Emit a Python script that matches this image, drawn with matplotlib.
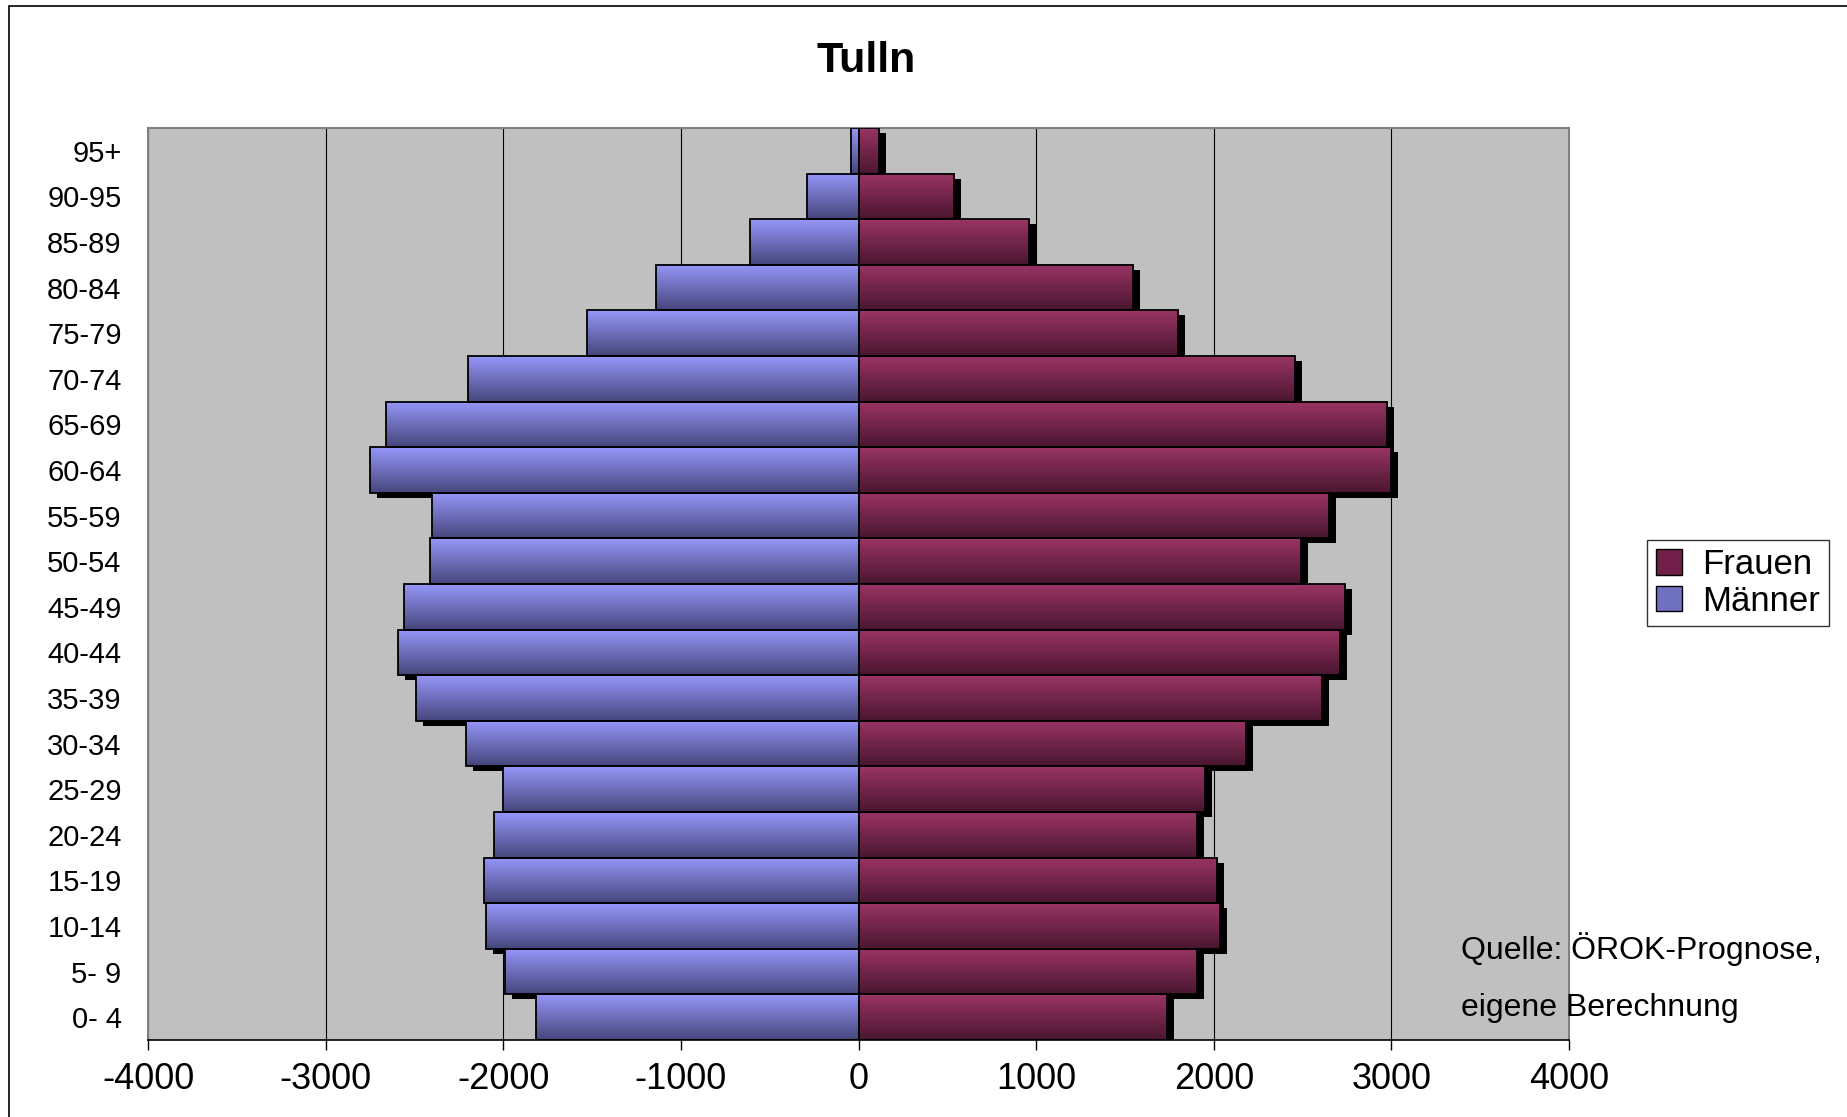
import numpy as np
import matplotlib
matplotlib.use("Agg")
import matplotlib.pyplot as plt
from matplotlib.patches import Patch, Rectangle
from matplotlib.colors import to_rgb
import matplotlib.transforms as mtransforms

plt.rcParams["font.family"] = ["Liberation Sans", "DejaVu Sans"]
plt.rcParams["axes.unicode_minus"] = False

# Data (bottom to top)
ages = ["0- 4", "5- 9", "10-14", "15-19", "20-24", "25-29", "30-34", "35-39",
        "40-44", "45-49", "50-54", "55-59", "60-64", "65-69", "70-74", "75-79",
        "80-84", "85-89", "90-95", "95+"]
maenner = [1815, 1990, 2095, 2110, 2050, 2000, 2210, 2490, 2590, 2560,
           2410, 2400, 2750, 2660, 2200, 1530, 1140, 610, 290, 45]
frauen = [1735, 1905, 2035, 2020, 1905, 1950, 2180, 2610, 2710, 2740,
          2490, 2650, 3000, 2975, 2460, 1800, 1545, 960, 535, 115]
x_ticks = [-4000, -3000, -2000, -1000, 0, 1000, 2000, 3000, 4000]

men_top, men_bot = "#9696FA", "#46467C"
wom_top, wom_bot = "#9A3464", "#4A1630"

W, H = 1847, 1117
fig = plt.figure(figsize=(W / 100, H / 100), dpi=100)
ax = fig.add_axes([148 / W, 1 - 1040 / H, 1421 / W, 912 / H])
ax.set_facecolor("#C0C0C0")

y = np.arange(len(ages))
men_vals = -np.array(maenner, dtype=float)
wom_vals = np.array(frauen, dtype=float)


def gradient(top, bot, n=64):
    t = np.linspace(0, 1, n)[:, None]
    c0 = np.array(to_rgb(top))
    c1 = np.array(to_rgb(bot))
    return (c0 * (1 - t) + c1 * t)[:, None, :]


# Shadows (offset a few pixels right/down)
shadow_tr = ax.transData + mtransforms.ScaledTranslation(7 / 100, -5 / 100, fig.dpi_scale_trans)
ax.barh(y, men_vals, height=1.0, color="black", zorder=1.5, transform=shadow_tr)
ax.barh(y, wom_vals, height=1.0, color="black", zorder=1.5, transform=shadow_tr)

# Gradient fills
g_men = gradient(men_top, men_bot)
g_wom = gradient(wom_top, wom_bot)
for yi, m, f in zip(y, men_vals, wom_vals):
    ax.imshow(g_men, extent=[m, 0, yi - 0.5, yi + 0.5], aspect="auto",
              origin="upper", interpolation="bilinear", zorder=2)
    ax.imshow(g_wom, extent=[0, f, yi - 0.5, yi + 0.5], aspect="auto",
              origin="upper", interpolation="bilinear", zorder=2)

# Outlines
ax.barh(y, men_vals, height=1.0, facecolor="none", edgecolor="black", linewidth=1.3, zorder=3)
ax.barh(y, wom_vals, height=1.0, facecolor="none", edgecolor="black", linewidth=1.3, zorder=3)

ax.set_xlim(-4000, 4000)
ax.set_ylim(-0.5, len(ages) - 0.5)
ax.set_xticks(x_ticks)
ax.set_xticklabels([str(v) for v in x_ticks], fontsize=26)
ax.set_yticks(y)
ax.set_yticklabels(ages, fontsize=21)
ax.tick_params(axis="y", length=0, pad=19)
ax.tick_params(axis="x", length=7, width=1, direction="out", pad=9)

ax.set_axisbelow(True)
ax.grid(axis="x", color="black", linewidth=0.8, zorder=0.5)
ax.grid(axis="y", visible=False)

for side in ["top", "right", "left"]:
    ax.spines[side].set_color("#808080")
    ax.spines[side].set_linewidth(1.5)
ax.spines["bottom"].set_color("black")
ax.spines["bottom"].set_linewidth(1.2)

# Title
fig.text(866 / W, 1 - 61 / H, "Tulln", ha="center", va="center",
         fontsize=31, fontweight="bold")

# Legend
handles = [Patch(facecolor="#701F48", edgecolor="black", label="Frauen"),
           Patch(facecolor="#7070C0", edgecolor="black", label="Männer")]
fig.legend(handles=handles, loc="center", bbox_to_anchor=(1738 / W, 1 - 583 / H),
           fontsize=25, frameon=True, fancybox=False, edgecolor="black",
           handlelength=0.75, handleheight=0.75, handletextpad=0.6,
           labelspacing=0.1, borderpad=0.25, borderaxespad=0)

# Source note
fig.text(1461 / W, 1 - 949 / H, "Quelle: ÖROK-Prognose,", ha="left", va="center", fontsize=23)
fig.text(1461 / W, 1 - 1008 / H, "eigene Berechnung", ha="left", va="center", fontsize=23)

# Outer frame
fig.patches.append(Rectangle((9 / W, -0.05), 1.2, 1 - 6 / H + 0.05, transform=fig.transFigure,
                             fill=False, edgecolor="black", linewidth=1.2))

fig.savefig("out.png", dpi=100)
